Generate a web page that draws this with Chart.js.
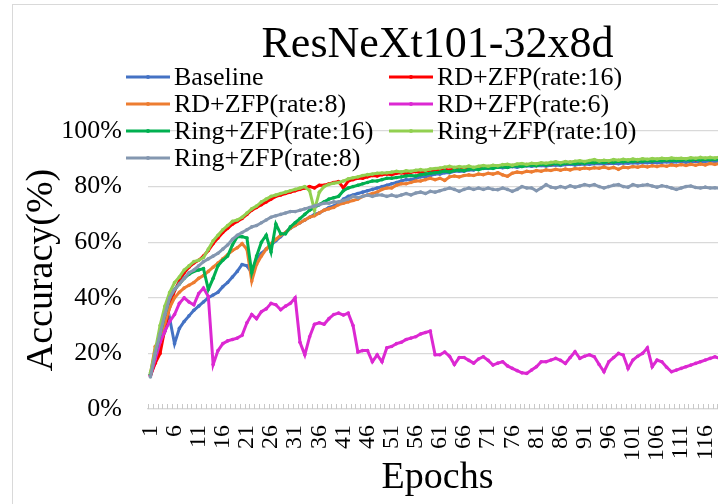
<!DOCTYPE html>
<html>
<head>
<meta charset="utf-8">
<title>ResNeXt101-32x8d accuracy</title>
<script src="https://cdn.jsdelivr.net/npm/chart.js@4.4.1/dist/chart.umd.min.js"></script>
<style>
  html, body { margin: 0; padding: 0; background: #fff; overflow: hidden; }
  #wrap { position: absolute; left: 0; top: 0; width: 780px; height: 504px; }
</style>
</head>
<body>
<div id="wrap"><canvas id="accChart"></canvas></div>
<script>
const chartTitle = 'ResNeXt101-32x8d';
const epochs = Array.from({length: 120}, (_, i) => String(i + 1));
const yTicks = [0, 20, 40, 60, 80, 100];

// accuracy (%) per epoch
const baseline = [
  12, 17, 23, 28, 32.5, 23.5, 29, 31.5, 33.5, 35.5,
  37, 38.5, 40, 41, 42, 44, 45.5, 47.5, 49.5, 52,
  51.5, 49, 54, 56, 57.5, 59, 60.5, 62, 63.5, 65,
  66, 67, 68, 69, 70, 70.5, 71.5, 72.5, 73, 74,
  75.5, 76.5, 77, 77.5, 78, 78.5, 79, 79.5, 80, 80.5,
  81, 81.5, 82, 82.5, 82.5, 83, 83.5, 83.5, 84, 84.5,
  84.5, 85, 85, 85.5, 85.5, 85.5, 86, 86, 86.5, 86.5,
  86.5, 86.8, 87, 86.8, 87, 87.2, 87, 87.3, 87.5, 87.3,
  87.5, 87.6, 87.4, 87.7, 87.8, 87.6, 87.9, 88, 87.8, 88,
  88.1, 88, 88.2, 88.3, 88.1, 88.3, 88.4, 88.2, 88.5, 88.4,
  88.6, 88.5, 88.7, 88.6, 88.8, 88.6, 88.8, 88.9, 88.7, 88.9,
  89, 88.8, 89, 89.1, 88.9, 89.1, 89.2, 89, 89.2, 89.3
];
const rdZfp16 = [
  12, 16.5, 20, 29, 37, 42.5, 46, 49, 51, 52.5,
  53.5, 55, 57, 59.5, 61.5, 63.5, 65, 66.5, 67.5, 68.5,
  70, 71.5, 72.5, 73.5, 74.5, 75.5, 76.5, 77, 77.5, 78,
  78.5, 79, 79.5, 80, 79.5, 80.5, 80.5, 81, 81.5, 81.8,
  79.5, 82, 82.5, 83, 83, 83.5, 84, 83.8, 84.3, 84.5,
  84.3, 84.8, 85, 84.6, 85.2, 85.4, 85, 85.6, 85.8, 85.5,
  86, 86.2, 85.9, 86.4, 86.5, 86.2, 86.7, 86.8, 86.5, 87,
  87.1, 86.8, 87.3, 87.4, 87.1, 87.6, 87.7, 87.4, 87.9, 88,
  87.7, 88.2, 88.3, 88, 88.5, 88.6, 88.3, 88.7, 88.8, 88.5,
  88.9, 89, 88.7, 89.1, 89.2, 88.9, 89.3, 89.4, 89.1, 89.4,
  89.5, 89.2, 89.6, 89.6, 89.3, 89.7, 89.8, 89.5, 89.8, 89.9,
  89.6, 89.9, 90, 89.7, 90, 90.1, 89.8, 90.1, 90.2, 90
];
const rdZfp8 = [
  12.5, 22.5, 25, 31, 36.5, 40, 42, 43.5, 44.5, 45.5,
  47, 48, 49.5, 51, 52.5, 54, 55.5, 57, 58, 59.5,
  57.5, 46, 52, 55, 57.5, 59.5, 61, 62.5, 63.5, 65,
  66, 67, 68, 69, 69.5, 70.5, 71.5, 72, 72.5, 73.5,
  74, 74.5, 75, 75.5, 76.5, 77, 77.5, 78, 79, 79.5,
  79.5, 80.5, 81, 81, 81.5, 82, 82, 82.5, 83, 82.5,
  83, 82.2, 83.5, 83.8, 83.5, 84, 84.2, 84, 84.5, 84.3,
  84.8, 84.5, 85, 84.2, 83.7, 84.8, 85.2, 85, 85.5, 85.3,
  85.8, 85.5, 86, 85.8, 86.2, 85.9, 86.3, 86, 86.5, 86.3,
  86.7, 86.4, 86.8, 86.6, 87, 86.5, 86.9, 86.2, 87, 86.8,
  87.2, 87, 87.4, 87.1, 87.5, 87.2, 87.6, 87.3, 87.8, 87.5,
  87.9, 87.6, 88, 87.7, 88.1, 87.8, 88.3, 88, 88.4, 88.2
];
const rdZfp6 = [
  12, 18, 24, 28, 31.5, 34, 38, 40, 38.5, 37.5,
  41.5, 43.5, 40.5, 16, 21, 23.5, 24.5, 25, 25.5, 26.5,
  31, 34, 32.5, 35, 36, 38, 37.5, 35.7, 37, 38,
  40, 24, 19.5, 26, 30.5, 31, 30.5, 32.5, 34, 34.5,
  33.8, 34.5, 30, 20.5, 21, 21, 17, 19.5, 17, 22,
  22.5, 23.5, 24, 25, 25.5, 26, 27, 27.5, 28, 19.5,
  19.5, 20.5, 19, 16, 18.5, 18.5, 17.5, 16.5, 18, 18.8,
  17.5, 15.8, 16.5, 17, 15.5, 14.6, 13.8, 13, 12.8, 14,
  15.2, 17, 17, 17.6, 18.2, 17.5, 16.4, 18.5, 20.6, 18.2,
  19, 19.5, 18.8, 16, 13.4, 17, 18.5, 20, 19.4, 14.6,
  17.6, 19, 20, 22, 15.2, 17.6, 17, 15, 13.4, 14,
  14.6, 15.2, 15.8, 16.4, 17, 17.6, 18.2, 18.8, 18.2, 18.5
];
const ringZfp16 = [
  12.5, 20, 27, 34, 40, 43, 45, 47, 48.5, 49.5,
  50, 50.5, 43, 47, 51.5, 53.5, 55, 59, 62, 62,
  61.5, 49, 55, 60, 62.5, 56.5, 66.5, 63, 63, 65.5,
  67, 68.5, 70, 71.5, 72.5, 73.5, 74.5, 75.5, 76, 76.5,
  78.5, 79.5, 80, 80.5, 81, 81.5, 82, 82, 82.5, 83,
  83, 83.3, 83.5, 83.8, 84, 83.8, 84.3, 84.5, 84.8, 85,
  85.2, 85.6, 85.3, 85.8, 86, 85.7, 86.2, 86.4, 86.1, 86.6,
  86.8, 86.5, 87, 87.2, 86.9, 87.4, 87.5, 87.2, 87.6, 87.8,
  87.5, 88, 87.8, 88.1, 88.3, 88, 88.4, 88.5, 88.2, 88.6,
  88.4, 88.8, 88.6, 88.9, 88.7, 89, 88.8, 89.1, 88.9, 89.2,
  89, 89.3, 89.1, 89.4, 89.2, 89.5, 89.3, 89.6, 89.4, 89.6,
  89.5, 89.7, 89.5, 89.8, 89.6, 89.9, 89.7, 89.9, 89.8, 90
];
const ringZfp10 = [
  13, 21, 30, 37, 42, 45.5, 47.5, 50, 51.5, 53,
  53.5, 54.5, 57.5, 60.5, 62.5, 64.5, 66, 67.5, 68, 69,
  70.5, 72, 73, 74.5, 75.5, 76.5, 77, 77.5, 78, 78.5,
  79, 79.5, 80, 78.5, 71.5, 78, 80, 80.8, 81.2, 81.5,
  82, 82.8, 83.2, 83.5, 84, 84.3, 84.5, 84.8, 84.9, 85,
  85.2, 85.5, 85.3, 85.7, 85.5, 85.9, 86.1, 85.9, 86.3, 86.5,
  86.7, 87, 87.3, 86.9, 87.2, 87, 87.4, 86.9, 87.3, 87.6,
  87.3, 87.7, 87.5, 87.9, 88, 87.7, 88.1, 88.3, 88, 88.4,
  88.2, 88.6, 88.4, 88.7, 88.9, 88.6, 89, 88.8, 89.1, 89.3,
  89, 89.4, 89.7, 89.2, 89.5, 89.3, 89.7, 89.5, 89.8, 89.6,
  89.9, 89.7, 90, 89.8, 90.1, 89.9, 90.2, 90, 90.3, 90.1,
  90.2, 90, 90.4, 90.2, 90.5, 90.3, 90.5, 90.3, 90.6, 90.4
];
const ringZfp8 = [
  11.5, 20, 27, 34, 40, 43, 45, 47, 49, 50,
  51.5, 53, 54, 55, 56, 57.5, 59, 61, 62.5, 63.5,
  64.5, 65.5, 66, 67, 68, 69, 69.5, 70, 70.5, 71,
  71, 71.5, 72, 72.5, 73, 73.5, 74, 74, 74.5, 74.5,
  75, 75.5, 76.5, 76, 76.5, 77, 76.5, 77, 77, 76.5,
  77, 76.5, 77, 77.5, 77, 77.7, 78, 77.5, 78.3, 78,
  78.5, 79, 79.5, 79, 78.3, 79, 79.5, 79, 79.5, 79,
  79.5, 79, 78.9, 79.5, 79, 78.3, 79, 80, 79.5, 79.5,
  78.5, 79.5, 80.7, 79.8, 79.5, 80, 79.6, 80.3, 79.8, 80.2,
  80.7, 80.3, 80.7, 80, 79.5, 80, 80.5, 80.7, 80, 79.8,
  80.7, 80.2, 80.5, 80.7, 80.2, 79.8, 80.3, 80, 79.5, 79,
  79.5, 80, 80.2, 79.7, 79.5, 79.8, 79.5, 79.6, 79.4, 79.6
];

const seriesNames = [
  'Baseline', 'RD+ZFP(rate:16)', 'RD+ZFP(rate:8)', 'RD+ZFP(rate:6)',
  'Ring+ZFP(rate:16)', 'Ring+ZFP(rate:10)', 'Ring+ZFP(rate:8)'
];
const seriesData = [baseline, rdZfp16, rdZfp8, rdZfp6, ringZfp16, ringZfp10, ringZfp8];
const seriesColors = ['#4472C4', '#FF0000', '#ED7D31', '#DC28D2', '#00B050', '#92D050', '#8497B0'];

const serif = '"Liberation Serif", "Times New Roman", serif';

// white background, outer frame, title and the two-column legend
const decorations = {
  id: 'decorations',
  beforeDraw(chart) {
    const ctx = chart.ctx;
    ctx.save();
    ctx.fillStyle = '#fff';
    ctx.fillRect(0, 0, chart.width, chart.height);
    ctx.strokeStyle = '#d9d9d9';
    ctx.lineWidth = 1;
    ctx.strokeRect(12.5, 4.5, chart.width, chart.height);
    ctx.restore();
  },
  afterDatasetsDraw(chart) {
    // small tick marks on the category axis, pointing up into the plot
    const {ctx, chartArea} = chart;
    const n = epochs.length;
    const w = (chartArea.right - chartArea.left) / n;
    ctx.save();
    ctx.strokeStyle = '#c8c8c8';
    ctx.lineWidth = 1;
    ctx.beginPath();
    for (let i = 0; i <= n; i++) {
      const px = Math.round(chartArea.left + i * w) + 0.5;
      ctx.moveTo(px, chartArea.bottom);
      ctx.lineTo(px, chartArea.bottom - 5);
    }
    ctx.stroke();
    ctx.restore();
  },
  afterDraw(chart) {
    const {ctx, chartArea} = chart;
    ctx.save();
    ctx.fillStyle = '#000';
    ctx.font = '44px ' + serif;
    ctx.textAlign = 'center';
    ctx.textBaseline = 'alphabetic';
    ctx.fillText(chartTitle, (chartArea.left + chartArea.right) / 2, 57);

    const cols = [126, 389];
    const rows = [77, 104, 131, 158];
    ctx.font = '26px ' + serif;
    ctx.textAlign = 'left';
    ctx.textBaseline = 'middle';
    chart.data.datasets.forEach((ds, i) => {
      const x = cols[i % 2];
      const y = rows[Math.floor(i / 2)];
      ctx.strokeStyle = ds.borderColor;
      ctx.lineWidth = 3;
      ctx.beginPath();
      ctx.moveTo(x, y);
      ctx.lineTo(x + 44, y);
      ctx.stroke();
      ctx.fillStyle = ds.borderColor;
      ctx.beginPath();
      ctx.arc(x + 22, y, 2, 0, Math.PI * 2);
      ctx.fill();
      ctx.fillStyle = '#000';
      ctx.fillText(ds.label, x + 48, y + 1);
    });
    ctx.restore();
  }
};

const ctx = document.getElementById('accChart').getContext('2d');
new Chart(ctx, {
  type: 'line',
  data: {
    labels: epochs,
    datasets: seriesNames.map((name, i) => ({
      label: name,
      data: seriesData[i],
      borderColor: seriesColors[i],
      backgroundColor: seriesColors[i],
      pointBackgroundColor: seriesColors[i],
      borderWidth: 3,
      pointRadius: 1.8,
      pointBorderWidth: 0,
      pointHoverRadius: 0,
      tension: 0,
      fill: false,
      order: seriesNames.length - i
    }))
  },
  options: {
    responsive: true,
    maintainAspectRatio: false,
    animation: false,
    events: [],
    layout: { padding: { top: 131, right: 53, left: 0, bottom: 0 } },
    plugins: {
      legend: { display: false },
      tooltip: { enabled: false },
      title: { display: false }
    },
    scales: {
      x: {
        offset: true,
        afterFit(scale) { scale.height = 95; },
        grid: { display: false },
        border: { display: true, color: '#d9d9d9', width: 1.3 },
        ticks: {
          autoSkip: false,
          maxRotation: 90,
          minRotation: 90,
          padding: 8,
          color: '#000',
          font: { family: serif, size: 24 },
          callback(value, index) {
            return index % 5 === 0 ? this.getLabelForValue(value) : '';
          }
        },
        title: {
          display: true,
          text: 'Epochs',
          color: '#000',
          font: { family: serif, size: 38, lineHeight: 1 },
          padding: { top: 0, bottom: 7 }
        }
      },
      y: {
        min: yTicks[0],
        max: yTicks[yTicks.length - 1],
        afterFit(scale) { scale.width = 148; },
        afterBuildTicks(scale) { scale.ticks = yTicks.map(v => ({ value: v })); },
        grid: { color: '#d9d9d9', lineWidth: 1.3, drawTicks: false },
        border: { display: false },
        ticks: {
          padding: 26,
          color: '#000',
          font: { family: serif, size: 26 },
          callback: v => v + '%'
        },
        title: {
          display: true,
          text: 'Accuracy(%)',
          color: '#000',
          font: { family: serif, size: 38, lineHeight: 1 },
          padding: { top: 23, bottom: 0 }
        }
      }
    }
  },
  plugins: [decorations]
});
</script>
</body>
</html>
